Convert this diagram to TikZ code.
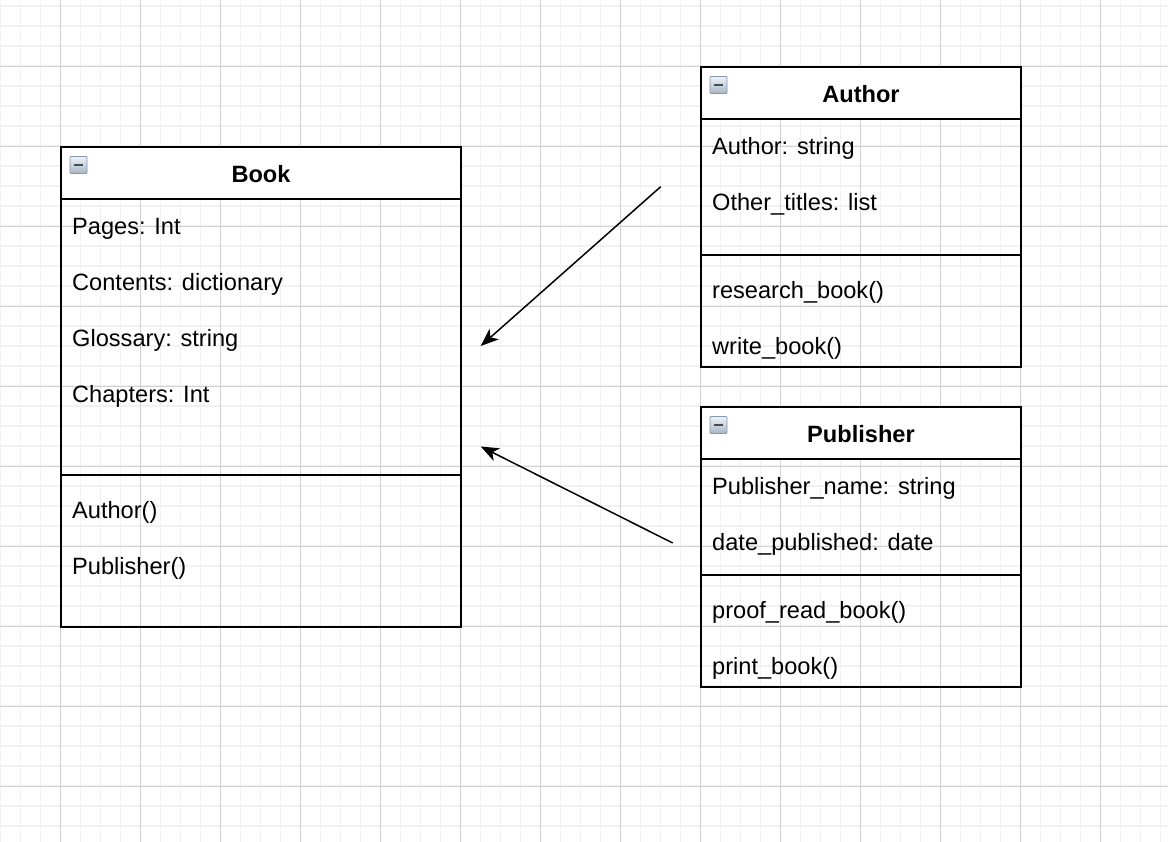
\documentclass[tikz,border=0pt]{standalone}
\usepackage{fontspec}
\setmainfont{Liberation Sans}
\usetikzlibrary{arrows.meta}
\definecolor{gridminor}{HTML}{F1F1F1}
\definecolor{gridmajor}{HTML}{D2D2D2}
\definecolor{icontop}{HTML}{EEF2F6}
\definecolor{iconbot}{HTML}{A7B6C6}
\definecolor{iconedge}{HTML}{8497AC}
\newcommand\collapseicon[1]{%
  \begin{scope}[shift={#1}]
    \shade[top color=icontop, bottom color=iconbot, draw=iconedge, line width=0.8pt, rounded corners=1pt] (0,0) rectangle (17,17);
    \draw[line width=2.4pt, color=black!70] (4,8.5) -- (13,8.5);
  \end{scope}}
\begin{document}
\begin{tikzpicture}[x=1pt,y=-1pt,
  minorline/.style={draw=gridminor, line width=1.2pt},
  majorline/.style={draw=gridmajor, line width=1pt},
  classbox/.style={draw, line width=2pt, anchor=north west, inner sep=0pt, outer sep=0pt},
  boxline/.style={line width=2pt},
  attr/.style={anchor=base west, inner sep=0pt, font=\fontsize{23.6}{28}\selectfont},
  ttl/.style={anchor=base, inner sep=0pt, font=\fontsize{23.6}{28}\selectfont\bfseries},
  assoc/.style={line width=1.5pt, -{Stealth[length=18pt, width=14pt, inset=5pt]}}]
\useasboundingbox (0,0) rectangle (1168,842);
\fill[white] (0,0) rectangle (1168,842);
% grid
\foreach \x in {0,20,...,1160} \draw[minorline] (\x+0.3,0) -- (\x+0.3,842);
\foreach \y in {6,26,...,826} \draw[minorline] (0,\y) -- (1168,\y);
\foreach \x in {60,140,...,1140} \draw[majorline] (\x+0.3,0) -- (\x+0.3,842);
\foreach \y in {66,146,...,786} \draw[majorline] (0,\y+0.3) -- (1168,\y+0.3);

% Book
\fill[white] (61,147) rectangle (461,199);
\node[classbox, minimum width=400pt, minimum height=480pt] (book) at (61,147) {};
\draw[boxline] (61,199) -- (461,199);
\draw[boxline] (61,475) -- (461,475);
\collapseicon{(70,156.5)}
\node[ttl] (bookt) at (261,182.5) {Book};
\node[attr] (b1) at (72,234.3) {Pages: Int};
\node[attr] (b2) at (72,290.3) {Contents: dictionary};
\node[attr] (b3) at (72,346.3) {Glossary: string};
\node[attr] (b4) at (72,402.3) {Chapters: Int};
\node[attr] (b5) at (72,518.8) {Author()};
\node[attr] (b6) at (72,574.8) {Publisher()};

% Author
\fill[white] (701,67) rectangle (1021,119);
\node[classbox, minimum width=320pt, minimum height=300pt] (author) at (701,67) {};
\draw[boxline] (701,119) -- (1021,119);
\draw[boxline] (701,255) -- (1021,255);
\collapseicon{(710,76.5)}
\node[ttl] (authort) at (861,102.5) {Author};
\node[attr] (a1) at (712,154.3) {Author: string};
\node[attr] (a2) at (712,210.3) {Other\_titles: list};
\node[attr] (a3) at (712,298.8) {research\_book()};
\node[attr] (a4) at (712,354.8) {write\_book()};

% Publisher
\fill[white] (701,407) rectangle (1021,459);
\node[classbox, minimum width=320pt, minimum height=280pt] (publisher) at (701,407) {};
\draw[boxline] (701,459) -- (1021,459);
\draw[boxline] (701,575) -- (1021,575);
\collapseicon{(710,416.5)}
\node[ttl] (publishert) at (861,442.5) {Publisher};
\node[attr] (p1) at (712,494.3) {Publisher\_name: string};
\node[attr] (p2) at (712,550.3) {date\_published: date};
\node[attr] (p3) at (712,618.8) {proof\_read\_book()};
\node[attr] (p4) at (712,674.8) {print\_book()};

% connectors
\coordinate (arr1s) at (660.7,186.7);
\coordinate (arr1e) at (480.7,346);
\coordinate (arr2s) at (672.7,543);
\coordinate (arr2e) at (480.7,446.5);
\draw[assoc] (arr1s) -- (arr1e);
\draw[assoc] (arr2s) -- (arr2e);
\end{tikzpicture}
\end{document}
